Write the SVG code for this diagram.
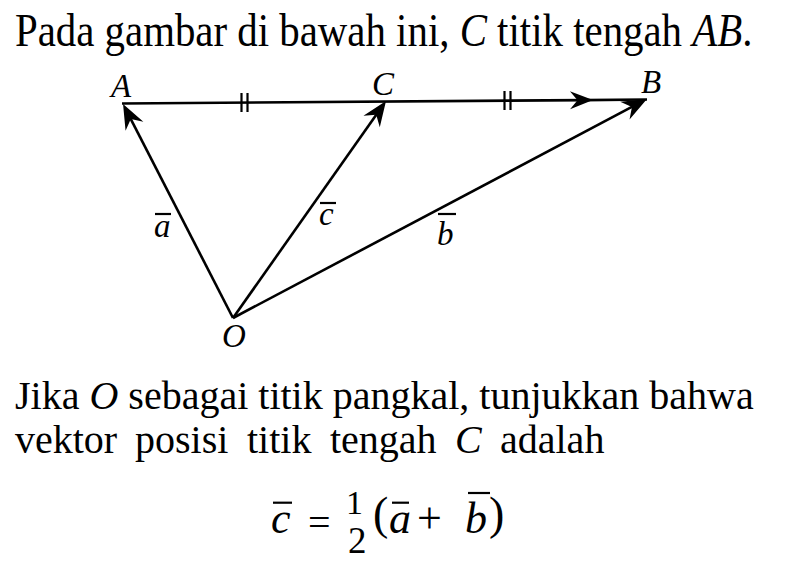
<svg xmlns="http://www.w3.org/2000/svg" width="800" height="562" viewBox="0 0 800 562">
<style>
.t{font-family:"Liberation Serif","Times New Roman",serif;fill:#000}
.i{font-style:italic}
.h{font-size:46px}
.p{font-size:40px}
.lbl{font-family:"Liberation Serif","Times New Roman",serif;font-style:italic;font-size:33px;fill:#000}
.ln{stroke:#000;stroke-width:2.6;fill:none}
.ov{stroke:#000;stroke-width:2.2}
.tk{stroke:#000;stroke-width:2.2}
</style>
<defs>
<marker id="ah" markerUnits="userSpaceOnUse" viewBox="-20 -12 30 24" refX="0" refY="0" markerWidth="30" markerHeight="24" orient="auto" overflow="visible">
<path d="M8,0 L-17,-10 L-9,0 L-17,10 Z" fill="#000"/>
</marker>
<marker id="ahm" markerUnits="userSpaceOnUse" viewBox="-20 -12 30 24" refX="0" refY="0" markerWidth="30" markerHeight="24" orient="auto" overflow="visible">
<path d="M8,0 L-15,-9 L-7.5,0 L-15,9 Z" fill="#000"/>
</marker>
</defs>
<rect width="800" height="562" fill="#fff"/>

<g id="header" transform="translate(15,46) scale(0.888,1)">
<text class="t h" x="0" y="0">Pada gambar di bawah ini, <tspan class="i">C</tspan> titik tengah <tspan class="i">AB</tspan>.</text>
</g>

<g id="connectors">
<path id="seg-AB" class="ln" d="M122,103.5 L585,100.1 L647,99.5" marker-mid="url(#ahm)"/>
<path id="vec-a" class="ln" d="M233,318 L126.7,111.1" marker-end="url(#ah)"/>
<path id="vec-c" class="ln" d="M233,318 L381.4,107.5" marker-end="url(#ah)"/>
<path id="vec-b" class="ln" d="M233,318 L639.9,102.7" marker-end="url(#ah)"/>
<g id="ticks">
<line class="tk" x1="241.5" y1="93" x2="241.5" y2="112"/>
<line class="tk" x1="247.5" y1="93" x2="247.5" y2="112"/>
<line class="tk" x1="504.5" y1="91" x2="504.5" y2="110"/>
<line class="tk" x1="510.5" y1="91" x2="510.5" y2="110"/>
</g>
</g>

<g id="node-A"><text class="lbl" x="111" y="97">A</text></g>
<g id="node-C"><text class="lbl" x="372" y="95">C</text></g>
<g id="node-B"><text class="lbl" x="641" y="93">B</text></g>
<g id="node-O"><text class="lbl" x="222" y="347">O</text></g>

<g id="label-a"><text class="lbl" x="154" y="237">a</text><line class="ov" x1="155" y1="214" x2="171" y2="214"/></g>
<g id="label-c"><text class="lbl" x="319" y="225">c</text><line class="ov" x1="320" y1="203" x2="336" y2="203"/></g>
<g id="label-b"><text class="lbl" x="437" y="245">b</text><line class="ov" x1="438" y1="214" x2="456" y2="214"/></g>

<g id="body">
<text class="t p" x="15" y="409">Jika <tspan class="i">O</tspan> sebagai titik pangkal, tunjukkan bahwa</text>
<text class="t p" x="15" y="453">vektor</text>
<text class="t p" x="135" y="453">posisi</text>
<text class="t p" x="247" y="453">titik</text>
<text class="t p" x="330" y="453">tengah</text>
<text class="t p i" x="455" y="453">C</text>
<text class="t p" x="500" y="453">adalah</text>
</g>

<g id="formula">
<text class="t i" x="271" y="533" font-size="44">c</text>
<line class="ov" x1="273" y1="502.7" x2="292" y2="502.7"/>
<text class="t" x="308" y="536" font-size="40">=</text>
<text class="t" x="346" y="514" font-size="34">1</text>
<text class="t" x="348" y="553" font-size="37">2</text>
<text class="t" x="373" y="529" font-size="46">(</text>
<text class="t i" x="389" y="533" font-size="44">a</text>
<line class="ov" x1="392" y1="502.7" x2="409" y2="502.7"/>
<text class="t" x="417" y="533" font-size="44">+</text>
<text class="t i" x="465" y="533" font-size="44">b</text>
<line class="ov" x1="468" y1="493" x2="490" y2="493"/>
<text class="t" x="489" y="529" font-size="46">)</text>
</g>
</svg>
